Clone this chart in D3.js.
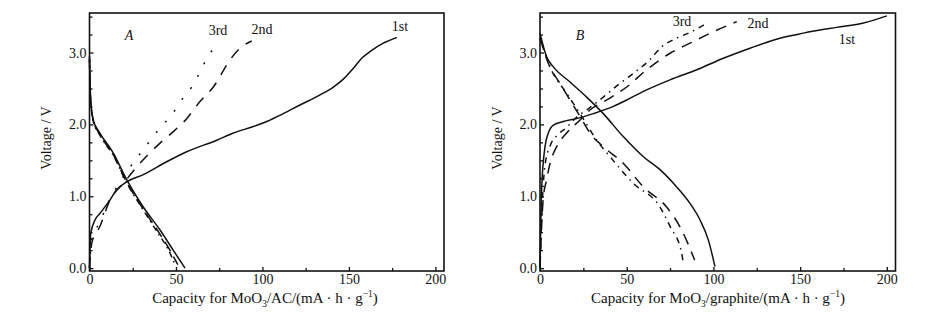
<!DOCTYPE html>
<html>
<head>
<meta charset="utf-8">
<script src="https://cdn.jsdelivr.net/npm/d3@7"></script>
<style>
  body { margin: 0; background: #fff; }
  svg text { font-family: "Liberation Serif", "DejaVu Serif", serif; fill: #111; }
</style>
</head>
<body>
<div id="chart"></div>
<script>
// tick values
const capTicks = [0, 50, 100, 150, 200];
const capMinor = [25, 75, 125, 175];
const voltTicks = [0, 1, 2, 3];
const voltMinor = [0.25, 0.5, 0.75, 1.25, 1.5, 1.75, 2.25, 2.5, 2.75, 3.25, 3.5];

// panel A : MoO3/AC  [capacity, voltage]
const chargeA1 = [[0,0],[0.7,0.48],[3.2,0.67],[6,0.76],[11.9,0.95],[15.7,1.09],[21.5,1.2],[31.1,1.3],
  [44.6,1.48],[56.2,1.62],[73.6,1.78],[83.2,1.88],[94.7,1.97],[102.5,2.04],[112.1,2.15],[121.7,2.27],
  [133.3,2.41],[141,2.52],[146.8,2.63],[152.6,2.78],[157.4,2.92],[163.2,3.03],[169.9,3.13],[177.7,3.21]];
const chargeA2 = [[0,0],[1.3,0.35],[6,0.58],[11.9,0.95],[19.6,1.18],[29.2,1.46],[40.8,1.74],[48.5,1.9],
  [56.2,2.08],[63.9,2.32],[71.6,2.52],[81.3,2.9],[87,3.06],[93.8,3.16]];
const chargeA3 = [[0,0],[1.2,0.4],[5.5,0.62],[11.9,0.96],[21.5,1.34],[27.3,1.53],[34,1.74],[40.8,1.95],
  [47.5,2.13],[53.3,2.34],[59.1,2.52],[63.9,2.73],[68.1,2.93],[74.9,3.13]];
const dischargeA1 = [[0,2.9],[0.7,2.34],[2.2,2.06],[6,1.88],[13.8,1.6],[21.5,1.23],[31.1,0.85],
  [40.8,0.53],[48.4,0.25],[55.2,0]];
const dischargeA2 = [[0,2.92],[0.5,2.4],[2,2.07],[6,1.86],[14,1.57],[21,1.22],[30,0.86],[40,0.5],
  [46,0.27],[51,0.05]];
const dischargeA3 = [[0,2.95],[0.5,2.42],[2,2.06],[6,1.85],[14,1.56],[21,1.21],[30,0.85],[39.5,0.49],
  [45.5,0.26],[49.5,0.05]];

// panel B : MoO3/graphite
const chargeB1 = [[0,0],[1,1.13],[2.9,1.69],[4.8,1.88],[7.7,1.99],[13.5,2.04],[21.1,2.08],[30.8,2.15],
  [42.3,2.25],[50,2.34],[61.5,2.48],[75,2.62],[90.4,2.76],[105.7,2.92],[121.1,3.06],[138.4,3.2],
  [151.9,3.27],[171.1,3.35],[186.5,3.41],[200,3.51]];
const chargeB2 = [[0,0],[1.8,0.95],[3.8,1.23],[5.8,1.46],[9.6,1.69],[15.4,1.88],[23.1,2.06],[28.8,2.2],
  [38.5,2.34],[50,2.52],[61.5,2.76],[75,2.99],[86.5,3.13],[100,3.29],[113.5,3.43]];
const chargeB3 = [[0,0],[1.5,1.0],[3,1.45],[5.8,1.7],[10,1.85],[15,1.95],[21.1,2.1],[28,2.22],
  [36.5,2.38],[45,2.55],[53.8,2.71],[63.4,2.9],[70.2,3.08],[78.8,3.2],[87.5,3.29],[96.1,3.41]];
const dischargeB1 = [[0,3.27],[3.8,2.94],[7.7,2.8],[17.3,2.59],[26.9,2.38],[36.5,2.15],[48,1.83],
  [59.6,1.55],[69.2,1.37],[78.8,1.13],[86.5,0.9],[92.3,0.67],[97.1,0.39],[100.9,0.02]];
const dischargeB2 = [[0,3.2],[4.8,2.85],[11.5,2.57],[17.3,2.34],[23.1,2.11],[28.8,1.88],[36.5,1.69],
  [48,1.46],[59.6,1.13],[73,0.85],[81.7,0.53],[89.2,0.11]];
const dischargeB3 = [[0,3.2],[5.8,2.8],[15.4,2.43],[23.1,2.15],[32.7,1.78],[40.4,1.55],[53.8,1.18],
  [69.2,0.85],[75,0.58],[81.7,0.21],[82.5,0.08]];

const svg = d3.select("#chart").append("svg")
  .attr("width", 945)
  .attr("height", 325);

const yScale = d3.scaleLinear().domain([-0.04, 3.55]).range([271, 13]);

function drawPanel(opt) {
  const x = d3.scaleLinear().domain([0, 205]).range(opt.xRange);
  const g = svg.append("g");

  // curves
  const line = d3.line()
    .x(d => x(d[0]))
    .y(d => yScale(d[1]))
    .curve(d3.curveMonotoneX);

  opt.series.forEach(s => {
    g.append("path")
      .datum(s.data)
      .attr("fill", "none")
      .attr("stroke", "#111")
      .attr("stroke-width", 1.5)
      .attr("stroke-dasharray", s.dash)
      .attr("d", line);
  });

  // axes with inward ticks
  g.append("g")
    .attr("transform", "translate(0,271)")
    .call(d3.axisBottom(x).tickValues(capTicks).tickSize(-4).tickPadding(3).tickFormat(d3.format("d")));
  g.append("g")
    .attr("transform", "translate(0,271)")
    .call(d3.axisBottom(x).tickValues(capMinor).tickSize(-3).tickFormat(""));
  g.append("g")
    .attr("transform", "translate(" + opt.xRange[0] + ",0)")
    .call(d3.axisLeft(yScale).tickValues(voltTicks).tickSize(-4).tickPadding(3).tickFormat(d3.format(".1f")));
  g.append("g")
    .attr("transform", "translate(" + opt.xRange[0] + ",0)")
    .call(d3.axisLeft(yScale).tickValues(voltMinor).tickSize(-3).tickFormat(""));

  g.selectAll(".domain").remove();
  g.selectAll(".tick line").attr("stroke", "#111").attr("stroke-width", 1.3);
  g.selectAll(".tick text").attr("font-size", 14).attr("fill", "#111")
    .style("font-family", "Liberation Serif");

  // frame
  g.append("rect")
    .attr("x", opt.xRange[0])
    .attr("y", 13)
    .attr("width", x(205) - x(0))
    .attr("height", 258)
    .attr("fill", "none")
    .attr("stroke", "#111")
    .attr("stroke-width", 1.6);

  // panel letter + cycle labels
  g.append("text").attr("x", opt.letter[0]).attr("y", opt.letter[1])
    .attr("font-size", 14).attr("font-style", "italic").attr("text-anchor", "middle")
    .text(opt.letter[2]);
  opt.labels.forEach(l => {
    g.append("text").attr("x", l[0]).attr("y", l[1])
      .attr("font-size", 14).attr("text-anchor", "middle").text(l[2]);
  });

  // y title
  g.append("text")
    .attr("transform", "translate(" + opt.yTitleX + ",138) rotate(-90)")
    .attr("text-anchor", "middle")
    .attr("font-size", 14)
    .text("Voltage / V");

  // x title
  const t = g.append("text")
    .attr("x", opt.xTitleX).attr("y", 303)
    .attr("text-anchor", "middle")
    .attr("font-size", 15);
  t.append("tspan").text("Capacity for MoO");
  t.append("tspan").attr("font-size", 9.5).attr("dy", 4).text("3");
  t.append("tspan").attr("dy", -4).text("/" + opt.material + "/(mA · h · g");
  t.append("tspan").attr("font-size", 9.5).attr("dy", -6).text("−1");
  t.append("tspan").attr("dy", 6).text(")");
}

drawPanel({
  xRange: [89.5, 444],
  material: "AC",
  xTitleX: 265,
  yTitleX: 51,
  letter: [129, 40, "A"],
  labels: [[218, 35, "3rd"], [262, 34, "2nd"], [400, 31, "1st"]],
  series: [
    {data: chargeA1, dash: null},
    {data: chargeA2, dash: "11,9"},
    {data: chargeA3, dash: "2,12"},
    {data: dischargeA1, dash: null},
    {data: dischargeA2, dash: "11,6"},
    {data: dischargeA3, dash: "6,4,1.5,4"}
  ]
});

drawPanel({
  xRange: [540, 895.5],
  material: "graphite",
  xTitleX: 718,
  yTitleX: 502,
  letter: [580, 40, "B"],
  labels: [[682, 26, "3rd"], [758, 28, "2nd"], [847, 44, "1st"]],
  series: [
    {data: chargeB1, dash: null},
    {data: chargeB2, dash: "11,8"},
    {data: chargeB3, dash: "6,5,1.5,5"},
    {data: dischargeB1, dash: null},
    {data: dischargeB2, dash: "11,8"},
    {data: dischargeB3, dash: "6,5,1.5,5"}
  ]
});
</script>
</body>
</html>
